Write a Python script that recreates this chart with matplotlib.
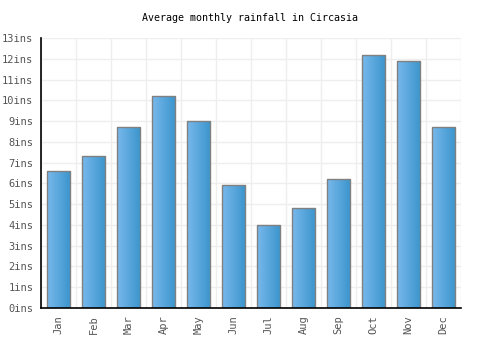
import matplotlib
matplotlib.use("Agg")
import matplotlib.pyplot as plt
import numpy as np
from matplotlib.colors import LinearSegmentedColormap

months = ["Jan", "Feb", "Mar", "Apr", "May", "Jun", "Jul", "Aug", "Sep", "Oct", "Nov", "Dec"]
rainfall = [6.6, 7.3, 8.7, 10.2, 9.0, 5.9, 4.0, 4.8, 6.2, 12.2, 11.9, 8.7]
yticks = list(range(0, 14))
ylabels = [f"{v}ins" for v in yticks]
title = "Average monthly rainfall in Circasia"

plt.rcParams['font.family'] = ['DejaVu Sans Mono']

fig = plt.figure(figsize=(5, 3.5), dpi=100)
ax = fig.add_axes([0.082, 0.12, 0.84, 0.7714])

x = np.arange(len(months))
width = 0.67
bars = ax.bar(x, rainfall, width=width, color='none', edgecolor='#808080', linewidth=1.0, zorder=3)
cmap = LinearSegmentedColormap.from_list('g', ['#78b8ec', '#3a95cc'])
grad = np.linspace(0, 1, 64).reshape(1, -1)
for b in bars:
    x0, y0 = b.get_x(), b.get_y()
    w, h = b.get_width(), b.get_height()
    im = ax.imshow(grad, cmap=cmap, aspect='auto', extent=[x0, x0 + w, y0, y0 + h],
                   zorder=2, interpolation='bilinear')
    im.set_clip_path(b)

ax.set_xlim(-0.5, len(months) - 0.5)
ax.set_ylim(0, 13)
ax.set_yticks(yticks)
ax.set_yticklabels(ylabels)
ax.set_xticks(x)
ax.set_xticklabels(months, rotation=90)
ax.set_xticks(np.arange(-0.5, len(months), 1), minor=True)
ax.tick_params(axis='both', which='both', length=0, labelsize=7.5, colors='#555555', pad=5.5)
ax.grid(False)
ax.yaxis.grid(True, color='#eeeeee', linewidth=1, zorder=0)
ax.xaxis.grid(True, which='minor', color='#eeeeee', linewidth=1, zorder=0)
for s in ['top', 'right']:
    ax.spines[s].set_visible(False)
for s in ['left', 'bottom']:
    ax.spines[s].set_color('black')
    ax.spines[s].set_linewidth(1.2)
    ax.spines[s].set_zorder(4)

fig.text(0.5, 1 - 18 / 350, title, ha='center', va='center', fontsize=7.2, color='black')
fig.savefig('out.png', dpi=100)
